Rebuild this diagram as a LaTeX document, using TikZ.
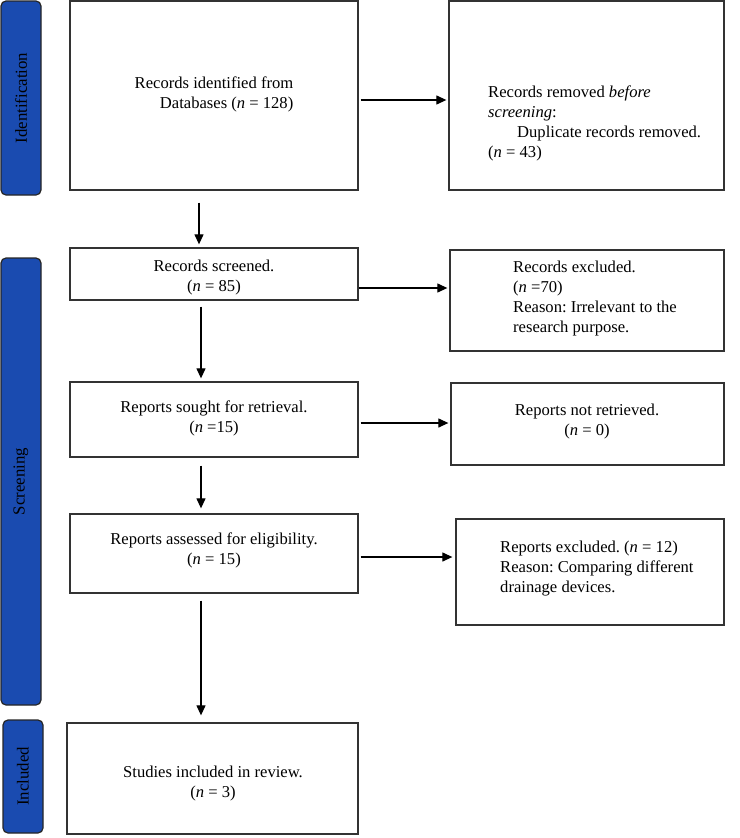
\documentclass[tikz,border=0pt]{standalone}
\usepackage{fontspec}
\setmainfont{Liberation Serif}
\frenchspacing
\usetikzlibrary{arrows.meta,calc}
\definecolor{sidebl}{HTML}{1A4BB0}
\definecolor{linegr}{HTML}{333333}
\tikzset{
  flowbox/.style={draw=linegr, line width=1.3pt, rectangle, inner sep=0pt},
  sidebar/.style={draw=black!85, line width=1.2pt, fill=sidebl, rounded corners=5pt, inner sep=0pt},
  sidelabel/.style={rotate=90, font=\fontsize{16.8}{18}\selectfont, text=black},
  txt/.style={font=\fontsize{16.6}{20}\selectfont\frenchspacing, inner sep=0pt},
  arr/.style={draw=black, line width=1.2pt, -{Triangle[length=10pt,width=9pt]}}
}
\begin{document}
\begin{tikzpicture}[x=1pt,y=-1pt]
\useasboundingbox (0,0) rectangle (739,838);
% sidebars
\node[sidebar, minimum width=40pt, minimum height=194pt] (sid) at (21,98) {};
\node[sidebar, minimum width=40pt, minimum height=447pt] (sscr) at (21,481.5) {};
\node[sidebar, minimum width=40pt, minimum height=113pt] (sinc) at (23,776.5) {};
\node[sidelabel] (lid) at (sid.center) {Identification};
\node[sidelabel] (lscr) at (sscr.center) {Screening};
\node[sidelabel] (linc) at (sinc.center) {Included};
% boxes
\node[flowbox, minimum width=288pt, minimum height=189pt] (b1) at (214,95.5) {};
\node[flowbox, minimum width=275pt, minimum height=189pt] (rem) at (586.5,95.5) {};
\node[flowbox, minimum width=288pt, minimum height=52pt] (scr) at (214,274) {};
\node[flowbox, minimum width=274pt, minimum height=101pt] (exc) at (587,300.5) {};
\node[flowbox, minimum width=288pt, minimum height=75pt] (sou) at (214,419.5) {};
\node[flowbox, minimum width=273pt, minimum height=82pt] (nr) at (587.5,424) {};
\node[flowbox, minimum width=288pt, minimum height=79pt] (ass) at (214,553.5) {};
\node[flowbox, minimum width=268pt, minimum height=106pt] (rex) at (590,572) {};
\node[flowbox, minimum width=291pt, minimum height=111pt] (stu) at (212.5,778.5) {};
% texts
\node[txt, align=right] (t1) at (214,94) {Records identified from\\Databases (\textit{n} = 128)};
\node[txt, align=left, anchor=west] (t2) at (488,123) {Records removed \textit{before}\\\textit{screening}:\\\hspace*{29pt}Duplicate records removed.\\(\textit{n} = 43)};
\node[txt, align=center] (t3) at (214,278) {Records screened.\\(\textit{n} = 85)};
\node[txt, align=left, anchor=west] (t4) at (513,299) {Records excluded.\\(\textit{n} =70)\\Reason: Irrelevant to the\\research purpose.};
\node[txt, align=center] (t5) at (214,418) {Reports sought for retrieval.\\(\textit{n} =15)};
\node[txt, align=center] (t6) at (587,422) {Reports not retrieved.\\(\textit{n} = 0)};
\node[txt, align=center] (t7) at (214,550) {Reports assessed for eligibility.\\(\textit{n} = 15)};
\node[txt, align=left, anchor=west] (t8) at (500,569) {Reports excluded. (\textit{n} = 12)\\Reason: Comparing different\\drainage devices.};
\node[txt, align=center] (t9) at (213,783) {Studies included in review.\\(\textit{n} = 3)};
% vertical arrows
\draw[arr] ([xshift=-15pt,yshift=-12pt]b1.south) -- ([xshift=-15pt,yshift=3pt]scr.north);
\draw[arr] ([xshift=-13pt,yshift=-6pt]scr.south) -- ([xshift=-13pt,yshift=3pt]sou.north);
\draw[arr] ([xshift=-13pt,yshift=-8pt]sou.south) -- ([xshift=-13pt,yshift=5pt]ass.north);
\draw[arr] ([xshift=-13pt,yshift=-7pt]ass.south) -- ([xshift=-13pt,yshift=7pt]stu.north -| ass.south);
% horizontal arrows
\draw[arr] ([xshift=2pt,yshift=-4.5pt]b1.east) -- ([xshift=-2pt,yshift=-4.5pt]rem.west);
\draw[arr] ([xshift=0pt,yshift=-14pt]scr.east) -- ([xshift=-2pt,yshift=12.5pt]exc.west);
\draw[arr] ([xshift=2pt,yshift=-3.5pt]sou.east) -- ([xshift=-2pt,yshift=1pt]nr.west);
\draw[arr] ([xshift=2pt,yshift=-3.5pt]ass.east) -- ([xshift=-3pt,yshift=15pt]rex.west);
\end{tikzpicture}
\end{document}
